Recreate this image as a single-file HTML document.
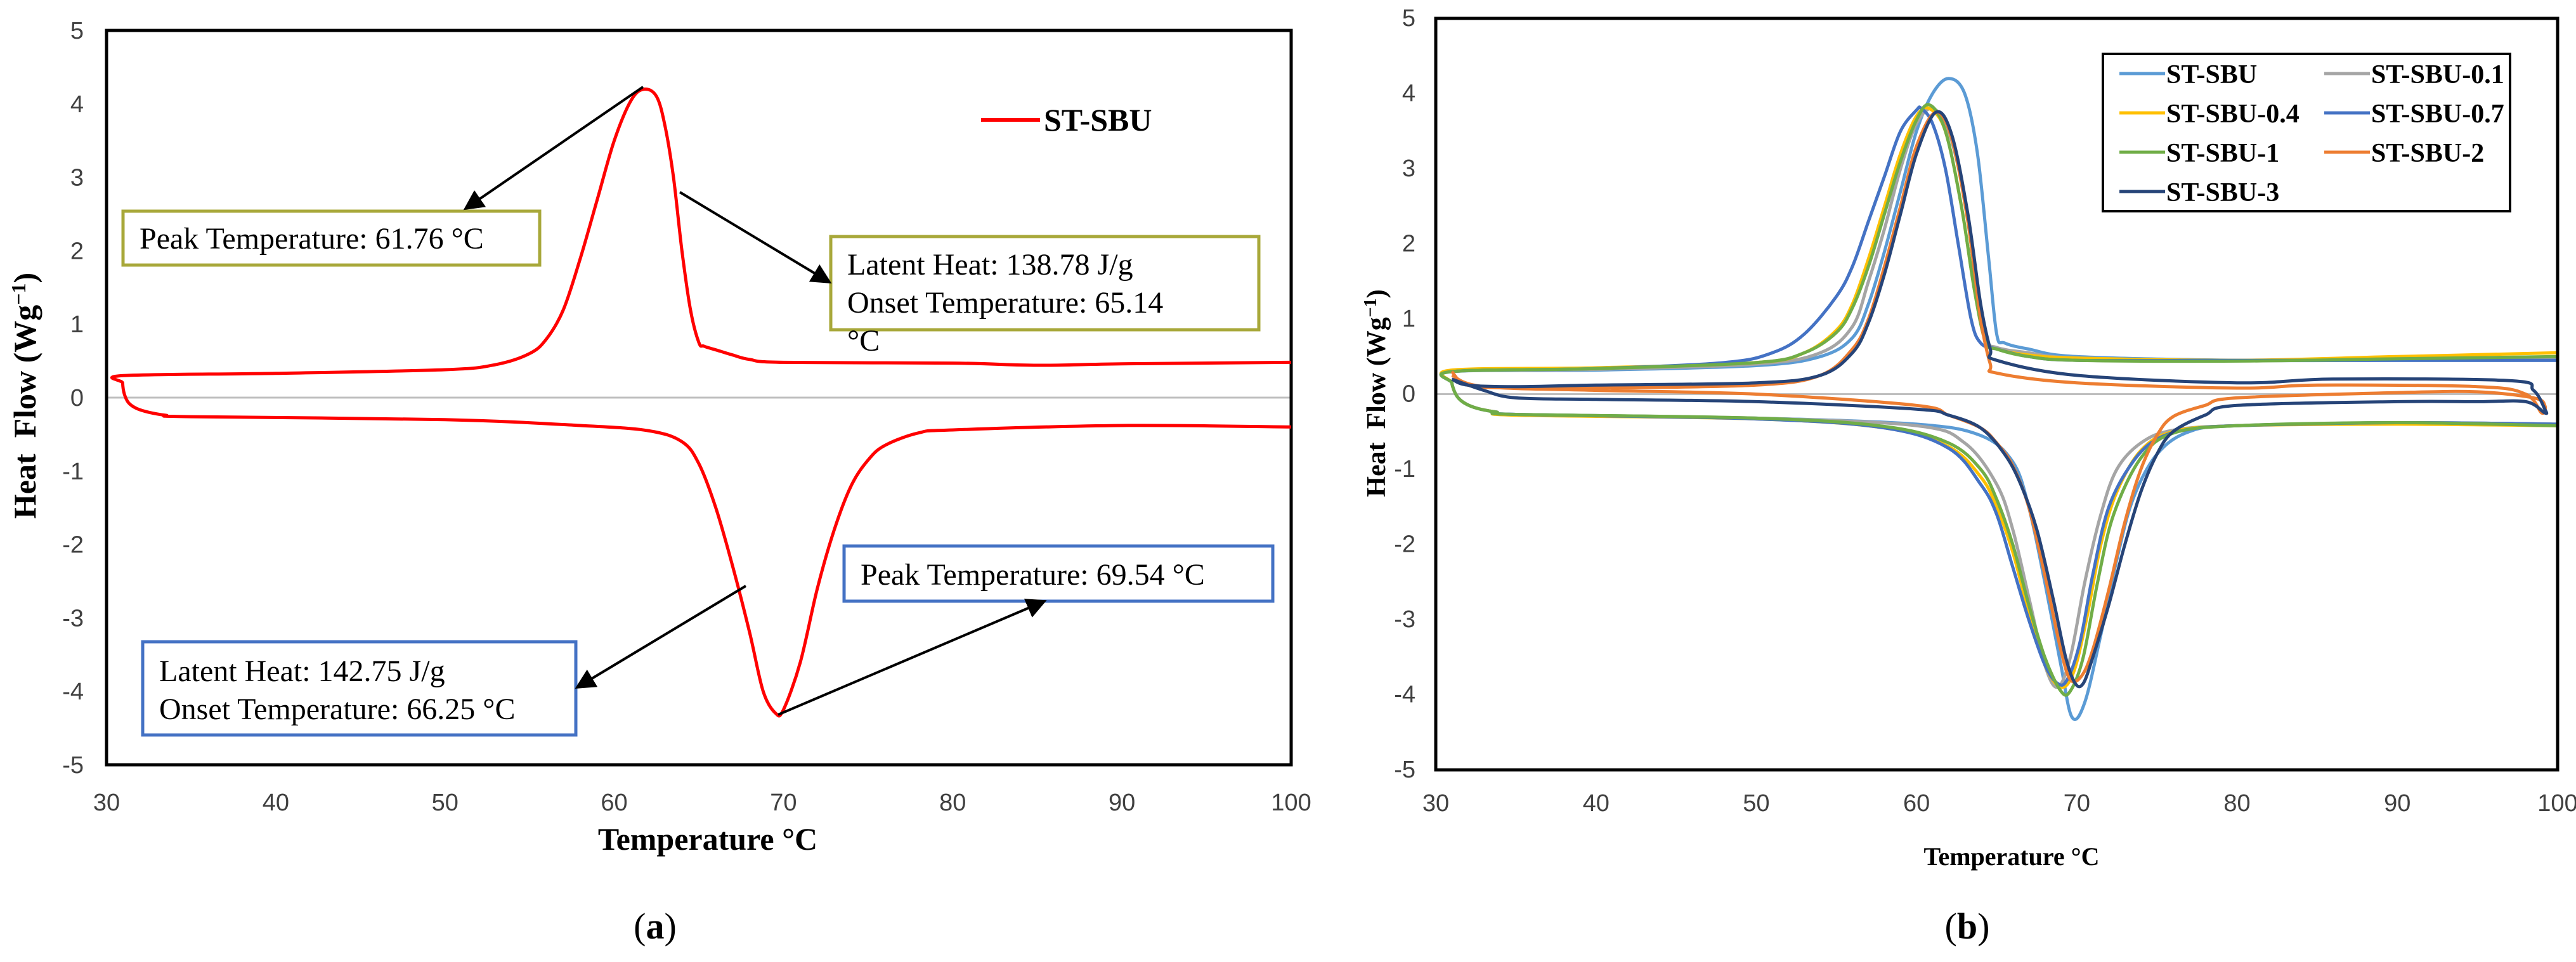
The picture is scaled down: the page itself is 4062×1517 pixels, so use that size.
<!DOCTYPE html>
<html><head><meta charset="utf-8"><style>
html,body{margin:0;padding:0;background:#fff;}
svg{display:block;}
text{font-family:"Liberation Serif",serif;}
.tick{font-family:"Liberation Sans",sans-serif;font-size:38px;fill:#404040;}
</style></head><body>
<svg id="fig" width="4062" height="1517" viewBox="0 0 4062 1517" xmlns="http://www.w3.org/2000/svg">
<defs><marker id="ah" markerWidth="8" markerHeight="8" refX="7" refY="4" orient="auto" markerUnits="strokeWidth"><path d="M0,0 L8,4 L0,8 z" fill="#000"/></marker></defs>
<g id="chartA"></g>
<g id="chartB"></g>
</svg>
<script>
// ---- Chart (a) data ----
const xTicksA = [30,40,50,60,70,80,90,100];
const yTicksA = [5,4,3,2,1,0,-1,-2,-3,-4,-5];
const redUpT = [31,40,50,53,55,56,57,58,59,60,61,61.76,62.5,63,63.5,64,64.5,65,65.3,66,67,68,70,80,85,90,100];
const redUpY = [0.3,0.33,0.38,0.45,0.6,0.8,1.2,1.9,2.7,3.5,4.05,4.2,4.1,3.7,3.0,2.0,1.2,0.75,0.7,0.65,0.58,0.52,0.48,0.47,0.44,0.46,0.48];
const redLoT = [30.95,31.05,31.3,31.8,32.5,33.5,35,50,58,62,64,65,66,67,68,68.8,69.54,70,71,72,73,74,75,76,78,80,90,100];
const redLoY = [0.2,0.05,-0.07,-0.15,-0.2,-0.24,-0.26,-0.3,-0.38,-0.45,-0.6,-0.9,-1.5,-2.3,-3.2,-4.0,-4.3,-4.25,-3.6,-2.6,-1.8,-1.2,-0.85,-0.65,-0.48,-0.44,-0.38,-0.4];

// ---- Chart (b) data ----
const xTicksB = [30,40,50,60,70,80,90,100];
const yTicksB = [5,4,3,2,1,0,-1,-2,-3,-4,-5];
const seriesNames = ["ST-SBU","ST-SBU-0.1","ST-SBU-0.4","ST-SBU-0.7","ST-SBU-1","ST-SBU-2","ST-SBU-3"];
const seriesColors = ["#5B9BD5","#A5A5A5","#FFC000","#4472C4","#70AD47","#ED7D31","#264478"];
const upT_sbu = [31,40,50,54,56,57,58,59,60,61,62,63,63.8,64.5,65,65.5,67,70,80,90,100];
const upY_sbu = [0.3,0.32,0.38,0.5,0.75,1.2,1.9,2.7,3.5,4.0,4.2,4.0,3.2,1.8,0.8,0.68,0.6,0.5,0.45,0.45,0.45];
const loT_sbu = [31,31.3,31.8,32.6,33.8,35,50,60,64,66,67,68,69,69.7,70.5,71.5,72.5,73.5,75,77,80,90,100];
const loY_sbu = [0.15,-0.02,-0.12,-0.19,-0.24,-0.27,-0.32,-0.4,-0.55,-0.9,-1.5,-2.5,-3.6,-4.3,-4.1,-3.2,-2.2,-1.4,-0.8,-0.5,-0.42,-0.38,-0.4];
const upT_01 = [31,40,50,54,56,57,58,59,60,61,62,63,63.7,64.3,65,67,70,80,90,100];
const upY_01 = [0.3,0.33,0.4,0.55,0.9,1.5,2.2,3.0,3.6,3.8,3.5,2.6,1.5,0.75,0.62,0.55,0.48,0.45,0.47,0.48];
const loT_01 = [31,31.3,31.8,32.6,33.8,35,50,60,63,65,66,67,68,68.8,69.6,70.5,71.5,72.5,74,76,80,90,100];
const loY_01 = [0.15,-0.02,-0.12,-0.19,-0.24,-0.27,-0.32,-0.42,-0.65,-1.2,-1.8,-2.7,-3.6,-3.9,-3.5,-2.5,-1.6,-1.0,-0.65,-0.48,-0.42,-0.38,-0.4];
const upT_04 = [31,40,50,53,55,56,57,58,59,60,60.8,61.8,62.8,63.6,64.3,65,67,70,80,90,100];
const upY_04 = [0.32,0.35,0.42,0.55,0.85,1.2,1.8,2.5,3.2,3.7,3.8,3.5,2.5,1.4,0.7,0.6,0.52,0.48,0.45,0.5,0.55];
const loT_04 = [31,31.3,31.8,32.6,33.8,35,50,58,62,64,65,66,67,68,69,69.8,70.6,71.5,72.5,74,76,80,90,100];
const loY_04 = [0.15,-0.02,-0.12,-0.19,-0.24,-0.28,-0.33,-0.45,-0.7,-1.1,-1.5,-2.1,-2.9,-3.6,-3.9,-3.7,-3.0,-2.0,-1.3,-0.75,-0.5,-0.42,-0.4,-0.42];
const upT_07 = [31,40,48,51,53,55,56,57,58,59,60,60.3,61,61.8,62.6,63.4,64,65,67,70,80,90,100];
const upY_07 = [0.3,0.34,0.42,0.55,0.8,1.3,1.7,2.3,2.9,3.5,3.78,3.8,3.6,3.0,2.0,1.0,0.68,0.6,0.5,0.45,0.45,0.45,0.45];
const loT_07 = [31,31.3,31.8,32.6,33.8,35,50,58,62,64,65,66,67,68,68.8,69.4,70.2,71,72,73.5,75,77,80,90,100];
const loY_07 = [0.15,-0.02,-0.12,-0.19,-0.24,-0.27,-0.33,-0.45,-0.72,-1.2,-1.6,-2.3,-3.0,-3.6,-3.85,-3.8,-3.3,-2.4,-1.5,-0.9,-0.6,-0.47,-0.42,-0.38,-0.4];
const upT_1 = [31,40,50,53,55,56,57,58,59,60,60.8,61.8,62.8,63.6,64.3,65,67,70,80,90,100];
const upY_1 = [0.3,0.34,0.42,0.55,0.82,1.15,1.7,2.4,3.1,3.65,3.85,3.5,2.5,1.4,0.7,0.6,0.5,0.45,0.44,0.47,0.5];
const loT_1 = [31,31.3,31.8,32.6,33.8,35,50,58,62,64,65,66,67,68,69,69.6,70.4,71.3,72.3,74,76,80,90,100];
const loY_1 = [0.15,-0.02,-0.12,-0.19,-0.24,-0.27,-0.32,-0.43,-0.65,-1.0,-1.4,-2.0,-2.8,-3.5,-3.95,-3.95,-3.5,-2.5,-1.6,-0.85,-0.52,-0.42,-0.38,-0.42];
const upT_2 = [31,32,35,40,50,54,56,57,58,59,60,61.2,62.2,63.2,64,64.6,65,70,80,85,95,98,99];
const upY_2 = [0.3,0.12,0.08,0.08,0.12,0.25,0.6,1.0,1.7,2.5,3.3,3.75,3.4,2.3,1.0,0.4,0.28,0.15,0.08,0.12,0.1,0.0,-0.25];
const loT_2 = [99.2,98.5,95,90,80,78,76,75,74,73,72,71,70.3,69.6,69,68,67,66,65,64,62,60,50,40,33,31];
const loY_2 = [-0.15,-0.05,0.03,0.02,-0.05,-0.15,-0.3,-0.55,-1.0,-1.7,-2.6,-3.4,-3.75,-3.8,-3.4,-2.4,-1.5,-0.95,-0.65,-0.45,-0.28,-0.15,0.0,0.05,0.1,0.25];
const upT_3 = [31,32,35,40,50,54,56,57,58,59,60,61.2,62.2,63.2,64,64.6,65,70,80,86,97,98.5,99.2];
const upY_3 = [0.2,0.12,0.1,0.12,0.15,0.25,0.55,0.95,1.6,2.4,3.2,3.75,3.45,2.4,1.2,0.6,0.45,0.25,0.15,0.2,0.18,0.05,-0.2];
const loT_3 = [99.2,98,95,90,80,78,76,75,74,73,72,71,70.4,69.9,69.3,68.5,67.5,66.5,65.5,64,62,60,50,40,35,33,31];
const loY_3 = [-0.25,-0.1,-0.1,-0.1,-0.15,-0.28,-0.5,-0.8,-1.3,-2.0,-2.8,-3.5,-3.85,-3.85,-3.5,-2.7,-1.8,-1.2,-0.8,-0.45,-0.28,-0.2,-0.1,-0.07,-0.05,0.05,0.2];

const NS = "http://www.w3.org/2000/svg";
function mk(tag, attrs, parent){const e=document.createElementNS(NS,tag);for(const k in attrs)e.setAttribute(k,attrs[k]);parent.appendChild(e);return e;}
function smooth(pts){
  let d="M"+pts[0][0].toFixed(1)+","+pts[0][1].toFixed(1);
  for(let i=0;i<pts.length-1;i++){
    const p0=pts[Math.max(0,i-1)],p1=pts[i],p2=pts[i+1],p3=pts[Math.min(pts.length-1,i+2)];
    const c1=[p1[0]+(p2[0]-p0[0])/6,p1[1]+(p2[1]-p0[1])/6];
    const c2=[p2[0]-(p3[0]-p1[0])/6,p2[1]-(p3[1]-p1[1])/6];
    d+=" C"+c1[0].toFixed(1)+","+c1[1].toFixed(1)+" "+c2[0].toFixed(1)+","+c2[1].toFixed(1)+" "+p2[0].toFixed(1)+","+p2[1].toFixed(1);
  }
  return d;
}

// ---------- Chart A ----------
(function(){
  const g=document.getElementById('chartA');
  const L=168,R=2036,T=48,B=1206;
  const sx=v=>L+(v-30)/70*(R-L), sy=v=>T+(5-v)/10*(B-T);
  const zl=mk('line',{x1:L,x2:R,y1:sy(0),y2:sy(0),stroke:'#bfbfbf','stroke-width':3},g);
  
  
  const fr=mk('rect',{x:L,y:T,width:R-L,height:B-T,fill:'none',stroke:'#000','stroke-width':5},g);
  
  
  yTicksA.forEach(v=>{const t=mk('text',{x:132,y:sy(v)+13,'text-anchor':'end',class:'tick'},g);t.textContent=v;
    
    });
  xTicksA.forEach(v=>{const t=mk('text',{x:sx(v),y:1278,'text-anchor':'middle',class:'tick'},g);t.textContent=v;
    
    });
  const pts=redUpT.map((t,i)=>[sx(t),sy(redUpY[i])]).reverse().concat(redLoT.map((t,i)=>[sx(t),sy(redLoY[i])]));
  const p=mk('path',{d:smooth(pts),fill:'none',stroke:'#FF0000','stroke-width':5,'stroke-linejoin':'round'},g);
  
  
  const xt=mk('text',{x:1116,y:1340,'text-anchor':'middle','font-size':50,'font-weight':'bold'},g);xt.textContent='Temperature °C';
  
  
  const yt=mk('text',{x:0,y:0,'text-anchor':'middle','font-size':50,'font-weight':'bold',transform:'translate(56,624) rotate(-90)'},g);
  yt.innerHTML='Heat&#160;&#160;Flow (Wg<tspan dy="-16" font-size="32">−1</tspan><tspan dy="16">)</tspan>';
  
  
  const ll=mk('line',{x1:1547,x2:1640,y1:189,y2:189,stroke:'#FF0000','stroke-width':6},g);
  
  
  const lt=mk('text',{x:1646,y:206,'font-size':50,'font-weight':'bold'},g);lt.textContent='ST-SBU';
  
  
  const boxes=[[194,333,657,85,'#A8A83A',['Peak Temperature: 61.76 °C'],[392],'peak-temp-box-heating'],
               [1310,373,675,147,'#A8A83A',['Latent Heat: 138.78 J/g','Onset Temperature: 65.14','°C'],[433,493,553],'latent-heat-box-heating'],
               [1331,861,676,87,'#4472C4',['Peak Temperature: 69.54 °C'],[922],'peak-temp-box-cooling'],
               [225,1012,683,147,'#4472C4',['Latent Heat: 142.75 J/g','Onset Temperature: 66.25 °C'],[1074,1134],'latent-heat-box-cooling']];
  boxes.forEach(b=>{
    const r=mk('rect',{x:b[0],y:b[1],width:b[2],height:b[3],fill:'#fff',stroke:b[4],'stroke-width':5},g);
    
    
    b[5].forEach((s,i)=>{const t=mk('text',{x:b[0]+26,y:b[6][i],'font-size':48},g);t.textContent=s;
      
      });
  });
  const arrows=[[1014,137,734,329],[1072,303,1308,445],[1176,924,910,1084],[1227,1127,1647,948]];
  arrows.forEach(a=>{const l=mk('line',{x1:a[0],y1:a[1],x2:a[2],y2:a[3],stroke:'#000','stroke-width':4,'marker-end':'url(#ah)'},g);
    
    });
  const cap=mk('text',{x:1033,y:1480,'text-anchor':'middle','font-size':58},g);cap.innerHTML='(<tspan font-weight="bold">a</tspan>)';
  
  
})();

// ---------- Chart B ----------
(function(){
  const g=document.getElementById('chartB');
  const L=2264,R=4033,T=29,B=1214;
  const sx=v=>L+(v-30)/70*(R-L), sy=v=>T+(5-v)/10*(B-T);
  const zl=mk('line',{x1:L,x2:R,y1:sy(0),y2:sy(0),stroke:'#bfbfbf','stroke-width':3},g);
  
  
  yTicksB.forEach(v=>{const t=mk('text',{x:2232,y:sy(v)+12,'text-anchor':'end',class:'tick','font-size':34},g);t.textContent=v;
    
    });
  xTicksB.forEach(v=>{const t=mk('text',{x:sx(v),y:1279,'text-anchor':'middle',class:'tick','font-size':34},g);t.textContent=v;
    
    });
  const data=[[upT_sbu,upY_sbu,loT_sbu,loY_sbu,true],[upT_01,upY_01,loT_01,loY_01,true],[upT_04,upY_04,loT_04,loY_04,true],
              [upT_07,upY_07,loT_07,loY_07,true],[upT_1,upY_1,loT_1,loY_1,true],[upT_2,upY_2,loT_2,loY_2,false],[upT_3,upY_3,loT_3,loY_3,false]];
  data.forEach((d,k)=>{
    let up=d[0].map((t,i)=>[sx(t),sy(d[1][i])]);
    let lo=d[2].map((t,i)=>[sx(t),sy(d[3][i])]);
    const pts = d[4] ? up.reverse().concat(lo) : up.concat(lo);
    const p=mk('path',{d:smooth(pts),fill:'none',stroke:seriesColors[k],'stroke-width':5,'stroke-linejoin':'round'},g);
    
    
  });
  const fr=mk('rect',{x:L,y:T,width:R-L,height:B-T,fill:'none',stroke:'#000','stroke-width':5},g);
  
  
  const lg=mk('rect',{x:3316,y:85,width:642,height:248,fill:'#fff',stroke:'#000','stroke-width':4},g);
  
  
  const pos=[[0,0],[1,0],[0,1],[1,1],[0,2],[1,2],[0,3]];
  seriesNames.forEach((n,k)=>{
    const x0=pos[k][0]?3665:3342, y0=116+pos[k][1]*62;
    const l=mk('line',{x1:x0,x2:x0+72,y1:y0,y2:y0,stroke:seriesColors[k],'stroke-width':5},g);
    
    
    const t=mk('text',{x:x0+74,y:y0+15,'font-size':42,'font-weight':'bold'},g);t.textContent=n;
    
    
  });
  const xt=mk('text',{x:3172,y:1364,'text-anchor':'middle','font-size':40,'font-weight':'bold'},g);xt.textContent='Temperature °C';
  
  
  const yt=mk('text',{x:0,y:0,'text-anchor':'middle','font-size':42,'font-weight':'bold',transform:'translate(2184,620) rotate(-90)'},g);
  yt.innerHTML='Heat&#160;&#160;Flow (Wg<tspan dy="-14" font-size="28">−1</tspan><tspan dy="14">)</tspan>';
  
  
  const cap=mk('text',{x:3102,y:1480,'text-anchor':'middle','font-size':58},g);cap.innerHTML='(<tspan font-weight="bold">b</tspan>)';
  
  
})();
</script>
</body></html>
